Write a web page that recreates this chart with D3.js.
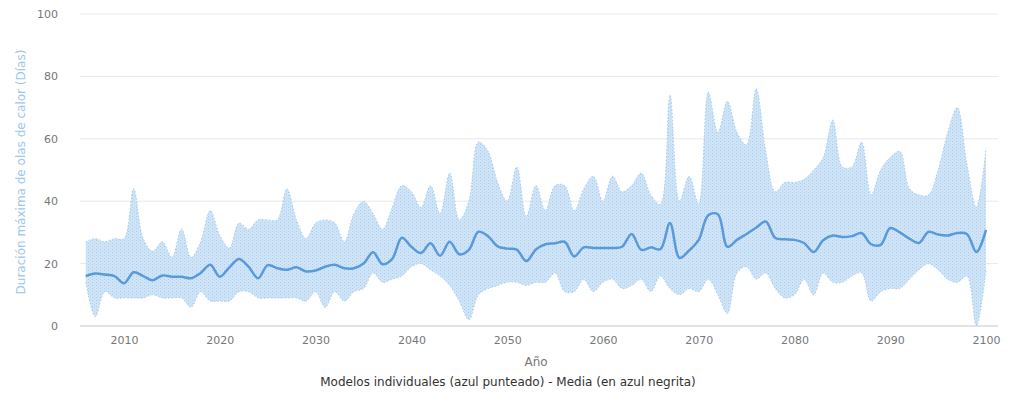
<!DOCTYPE html>
<html>
<head>
<meta charset="utf-8">
<script src="https://cdn.jsdelivr.net/npm/d3@7/dist/d3.min.js"></script>
<style>
  html, body { margin: 0; padding: 0; background: #fff; }
  svg { display: block; font-family: "DejaVu Sans", "Open Sans", sans-serif; }
</style>
</head>
<body>
<svg id="chart" width="1016" height="406"></svg>
<script>
// Years of the projection
const years = d3.range(2006, 2101);

// Highest value among the individual models for each year (days)
const modelMax = [
  27, 28, 27, 28, 28, 44, 28, 24, 27, 22,
  31, 22, 27, 37, 29, 25, 33, 31, 34, 34,
  34, 44, 34, 28, 33, 34, 33, 27, 36, 40,
  36, 31, 38, 45, 43, 38, 45, 36, 49, 34,
  40, 59, 56, 46, 40, 51, 35, 45, 37, 45,
  45, 37, 44, 48, 40, 48, 43, 45, 49, 42,
  39, 74, 40, 48, 39, 75, 62, 72, 62, 58,
  76, 56, 43, 46, 46, 47, 50, 54, 66, 51,
  51, 59, 42, 50, 54, 56, 44, 42, 42, 50,
  62, 70, 52, 38, 57
];

// Lowest value among the individual models for each year (days)
const modelMin = [
  14, 3, 11, 9, 9, 9, 9, 10, 9, 9,
  9, 6, 11, 8, 8, 8, 11, 11, 9, 9,
  9, 9, 9, 8, 11, 6, 11, 8, 11, 12,
  17, 14, 15, 16, 19, 20, 18, 16, 13, 8,
  2, 10, 12, 13, 14, 14, 13, 14, 14, 17,
  11, 11, 15, 11, 14, 15, 12, 13, 15, 11,
  16, 12, 10, 12, 11, 15, 10, 4, 17, 19,
  15, 17, 12, 9, 10, 15, 10, 17, 14, 14,
  16, 17, 8, 11, 12, 12, 15, 18, 20, 18,
  15, 14, 16, 0, 18
];

// Ensemble mean (days)
const ensembleMean = [
  16, 16.8, 16.5, 16, 13.7, 17.2, 16, 14.7, 16.2, 15.8,
  15.8, 15.3, 17, 19.6, 15.8, 18.8, 21.5, 19, 15.3, 19.5,
  18.5, 18, 18.8, 17.5, 17.8, 19, 19.6, 18.5, 18.5, 20,
  23.6, 19.8, 21.5, 28.3, 25.4, 23.4, 26.5, 22.5, 27, 23,
  24.4, 30.2, 28.8, 25.5, 24.8, 24.5, 20.8, 24.5, 26.2, 26.5,
  27, 22.3, 25.2, 25, 25, 25, 25.4, 29.5, 24.4, 25.2,
  24.6, 33, 21.8, 24.2, 27.6, 35.5, 35.8, 25.4, 27.6, 29.5,
  31.5, 33.5, 28.2, 27.8, 27.6, 26.6, 23.7, 27.5, 29, 28.5,
  28.8, 29.8, 26.2, 26, 31.4, 30, 28, 26.6, 30.2, 29.3,
  29, 29.8, 29.5, 23.7, 30.8
];

const xTicks = [2010, 2020, 2030, 2040, 2050, 2060, 2070, 2080, 2090, 2100];
const yTicks = [0, 20, 40, 60, 80, 100];

const yTitle = "Duración máxima de olas de calor (Días)";
const xTitle = "Año";
const caption = "Modelos individuales (azul punteado) - Media (en azul negrita)";

const svg = d3.select("#chart");
const plot = { left: 80, right: 998, top: 14, bottom: 326 };

const x = d3.scaleLinear().domain([2005.4, 2101.25]).range([plot.left, plot.right]);
const y = d3.scaleLinear().domain([0, 100]).range([plot.bottom, plot.top]);

const rows = years.map((yr, i) => ({ yr, hi: modelMax[i], lo: modelMin[i], mean: ensembleMean[i] }));

const defs = svg.append("defs");
defs.append("clipPath").attr("id", "plotClip")
  .append("rect")
  .attr("x", plot.left).attr("y", plot.top - 2)
  .attr("width", plot.right - plot.left).attr("height", plot.bottom - plot.top + 2);

// Fine dotted texture standing for the overlapping dotted model traces
const dots = defs.append("pattern")
  .attr("id", "modelDots")
  .attr("patternUnits", "userSpaceOnUse")
  .attr("width", 4).attr("height", 3);
dots.append("rect").attr("width", 4).attr("height", 3).attr("fill", "#cfe4f7");
dots.append("rect").attr("x", 0).attr("y", 0).attr("width", 1).attr("height", 1).attr("fill", "#a9cdee");
dots.append("rect").attr("x", 2).attr("y", 1.5).attr("width", 1).attr("height", 1).attr("fill", "#b8d6f1");

// Horizontal gridlines
svg.append("g")
  .selectAll("line")
  .data(yTicks.filter(t => t > 0))
  .join("line")
  .attr("x1", plot.left).attr("x2", plot.right)
  .attr("y1", d => y(d)).attr("y2", d => y(d))
  .attr("stroke", "#e8e8e8").attr("stroke-width", 1);

// Y tick labels
const yAxis = d3.axisLeft(y).tickValues(yTicks).tickSize(0).tickPadding(22);
svg.append("g")
  .attr("transform", `translate(${plot.left},0)`)
  .call(yAxis)
  .call(g => g.select(".domain").remove())
  .call(g => g.selectAll("text").attr("fill", "#777").attr("font-size", 11)
    .attr("font-family", "DejaVu Sans, sans-serif"));

const curve = d3.curveCatmullRom.alpha(0.5);
const body = svg.append("g").attr("clip-path", "url(#plotClip)");

// Spread of the individual models
body.append("path")
  .datum(rows)
  .attr("d", d3.area().x(d => x(d.yr)).y0(d => y(d.lo)).y1(d => y(d.hi)).curve(curve))
  .attr("fill", "url(#modelDots)");

// Dotted outline of the model spread
["hi", "lo"].forEach(key => {
  body.append("path")
    .datum(rows)
    .attr("d", d3.line().x(d => x(d.yr)).y(d => y(d[key])).curve(curve))
    .attr("fill", "none")
    .attr("stroke", "#a9cdef")
    .attr("stroke-width", 1)
    .attr("stroke-dasharray", "1.5,2");
});

// Ensemble mean
body.append("path")
  .datum(rows)
  .attr("d", d3.line().x(d => x(d.yr)).y(d => y(d.mean)).curve(curve))
  .attr("fill", "none")
  .attr("stroke", "#5a9ad8")
  .attr("stroke-width", 2.5)
  .attr("stroke-linejoin", "round");

// Baseline
svg.append("line")
  .attr("x1", plot.left).attr("x2", plot.right)
  .attr("y1", y(0)).attr("y2", y(0))
  .attr("stroke", "#c8c8c8").attr("stroke-width", 1);

// X tick labels
const xAxis = d3.axisBottom(x).tickValues(xTicks).tickFormat(d3.format("d")).tickSize(0).tickPadding(10);
svg.append("g")
  .attr("transform", `translate(0,${plot.bottom})`)
  .call(xAxis)
  .call(g => g.select(".domain").remove())
  .call(g => g.selectAll("text").attr("fill", "#777").attr("font-size", 11)
    .attr("font-family", "DejaVu Sans, sans-serif"));

// Axis titles
svg.append("text")
  .attr("transform", `translate(25,${(plot.top + plot.bottom) / 2 + 2}) rotate(-90)`)
  .attr("text-anchor", "middle")
  .attr("fill", "#9cc6ec")
  .attr("font-size", 12)
  .text(yTitle);

svg.append("text")
  .attr("x", (plot.left + plot.right) / 2 - 3)
  .attr("y", 366)
  .attr("text-anchor", "middle")
  .attr("fill", "#777")
  .attr("font-size", 12)
  .text(xTitle);

svg.append("text")
  .attr("x", 508)
  .attr("y", 386)
  .attr("text-anchor", "middle")
  .attr("fill", "#333")
  .attr("font-size", 12)
  .text(caption);
</script>
</body>
</html>
